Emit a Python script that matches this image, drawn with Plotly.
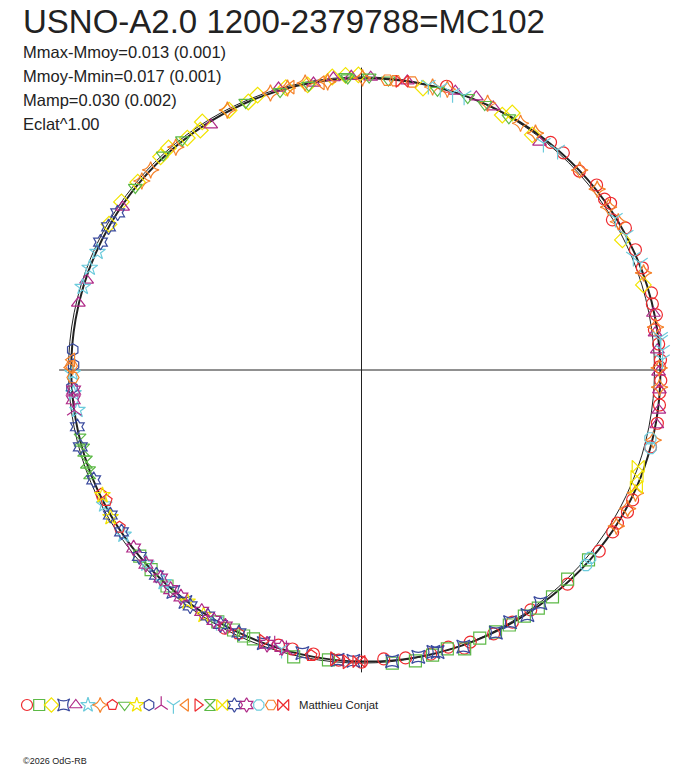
import plotly.graph_objects as go

# phase angle (deg, clockwise from top) and relative flux for each night / series
red_circle_deg = [16.7, 39.7, 42.9, 47.6, 51.8, 54.9, 56.2, 59.1, 61.7, 66.3, 70.0, 75.1, 77.2, 79.4, 82.2,
                  85.0, 88.1, 89.4, 92.0, 94.4, 96.7, 100.2, 104.9, 115.6, 118.1, 120.9, 122.8, 127.3,
                  136.1, 144.8, 149.1, 153.4, 158.2, 159.7, 162.6, 166.3, 171.3, 175.6, 180.0, 184.5,
                  189.6, 193.9, 196.8, 207.9]
red_circle_r = [1.011, 1.010, 1.012, 1.007, 1.021, 1.014, 1.023, 0.998, 1.023, 1.021, 1.020, 1.024, 1.018,
                1.024, 1.009, 1.018, 1.021, 1.017, 1.022, 1.020, 1.024, 1.026, 1.021, 1.026, 1.029, 1.018,
                1.020, 1.020, 1.014, 1.002, 1.003, 1.007, 1.000, 1.012, 0.991, 0.998, 0.994, 0.989, 0.997,
                0.993, 0.983, 0.981, 0.981, 0.997]

green_square_deg = [129.9, 135.4, 139.9, 143.4, 146.5, 149.9, 152.9, 156.2, 159.7, 162.9, 166.0, 169.5,
                    174.0, 186.5, 193.3, 201.9, 203.9, 206.2, 209.7, 222.0, 226.5, 230.0]
green_square_r = [1.010, 1.002, 1.012, 1.012, 1.007, 1.006, 1.004, 1.000, 1.015, 0.996, 1.003, 1.010,
                  1.006, 0.996, 1.006, 0.989, 0.993, 0.989, 0.990, 0.992, 0.990, 0.988]

yellow_diamond_deg = [300.0, 305.0, 310.0, 316.7, 319.0, 323.1, 326.1, 327.3, 333.0, 337.1, 339.3, 345.0,
                      349.3, 354.3, 356.9, 359.4, 12.3, 28.9, 30.4, 36.0, 63.5, 73.2]
yellow_diamond_r = [0.995, 1.000, 0.997, 1.000, 1.004, 0.990, 0.986, 1.006, 0.995, 0.993, 1.003, 0.998,
                    0.990, 1.005, 1.007, 1.007, 0.985, 0.994, 1.017, 0.992, 0.995, 1.005]

blue_starsq_deg = [142.5, 145.9, 149.5, 152.9, 159.8, 164.9, 165.7, 168.8, 174.0, 181.6, 184.7, 191.8,
                   199.7, 217.2, 220.3]
blue_starsq_r = [1.003, 1.010, 0.999, 1.007, 1.006, 0.997, 0.993, 0.998, 0.999, 0.993, 0.993, 0.987,
                 0.990, 0.994, 0.993]

magenta_tri_deg = [283.3, 288.1, 304.3, 328.4, 343.6, 350.5, 354.5, 358.0, 1.8, 9.0, 18.6, 22.8, 26.6,
                   38.0, 79.0, 82.8, 86.1, 90.4, 93.8, 97.7, 100.5]
magenta_tri_r = [0.993, 0.987, 0.987, 0.982, 1.003, 0.993, 1.002, 1.003, 1.000, 0.999, 1.004, 1.011,
                 1.004, 0.987, 1.015, 1.010, 1.012, 1.014, 1.019, 1.024, 1.025]

cyan_star_deg = [223.0, 228.0, 235.3, 242.4, 262.0, 265.4, 269.4, 286.6, 290.6, 294.1]
cyan_star_r = [0.990, 0.988, 0.988, 0.991, 0.979, 0.986, 0.986, 0.993, 0.991, 0.987]

orange_stardia_deg = [310.7, 313.5, 320.2, 332.7, 341.8, 345.3, 348.9, 353.3, 0.2, 14.1, 17.0, 25.3,
                      32.8, 36.3, 47.5, 52.5, 56.6, 60.0, 71.0, 81.7, 89.6, 93.3, 103.5, 114.2, 117.5,
                      121.5]
orange_stardia_r = [0.989, 0.992, 0.990, 0.998, 0.995, 0.995, 0.998, 0.990, 0.997, 0.996, 1.002, 1.007,
                    1.002, 1.003, 1.010, 1.014, 1.010, 1.012, 1.018, 1.014, 1.016, 1.019, 1.024, 1.025,
                    1.024, 1.020]

red_pentagon_deg = [190.0, 205.0, 237.0, 242.9, 244.5]
red_pentagon_r = [0.990, 0.993, 0.985, 0.978, 0.985]

green_tridown_deg = [308.9, 317.3, 322.1, 336.6, 343.7, 349.5, 356.9, 357.3, 1.5, 5.3, 15.2, 21.3, 24.9,
                     30.3]
green_tridown_r = [0.992, 0.998, 0.995, 0.995, 0.990, 0.988, 1.003, 0.998, 1.000, 0.994, 0.989, 0.998,
                   0.999, 0.997]

yellow_star_deg = [212.8, 216.9, 239.6, 244.2]
yellow_star_r = [0.995, 0.989, 0.993, 0.982]

blue_hexagon_deg = [266.5, 271.0, 274.0]
blue_hexagon_r = [0.990, 0.983, 0.988]

magenta_y_deg = [195.0, 197.5, 262.0]
magenta_y_r = [0.990, 0.985, 0.990]

cyan_y_deg = [13.2, 15.6, 18.2, 20.5, 38.7, 41.7, 59.1, 63.0, 67.4, 69.0, 83.7, 84.3, 86.2, 88.0, 196.0,
              210.0]
cyan_y_r = [0.999, 1.000, 0.995, 1.000, 0.993, 1.006, 1.010, 1.014, 1.005, 1.020, 1.027, 1.026, 1.030,
            1.028, 0.990, 0.990]

orange_trileft_deg = [270.5, 272.0, 346.0, 352.0]
orange_trileft_r = [0.995, 0.990, 0.995, 0.990]

red_triright_deg = [183.0, 185.5, 200.0]
red_triright_r = [0.997, 0.990, 0.985]

green_hourglass_deg = [249.3, 251.5, 253.9, 256.0]
green_hourglass_r = [0.992, 0.990, 0.987, 0.990]

yellow_bowtie_deg = [109.2, 111.1, 113.1]
yellow_bowtie_r = [1.000, 1.008, 1.020]

blue_hexagram_deg = [205.0, 209.0, 212.0, 216.0, 225.0, 230.0, 236.0, 240.0, 247.7, 254.7, 258.7, 296.1,
                     299.5, 302.8]
blue_hexagram_r = [0.990, 0.993, 0.990, 0.995, 0.990, 0.990, 0.988, 0.990, 0.988, 0.995, 0.989, 0.992,
                   0.992, 0.990]

magenta_hexagram_deg = [196.0, 199.0, 208.0, 210.5, 213.5, 218.5, 221.0, 224.0, 228.0, 232.0, 264.1, 266.0]
magenta_hexagram_r = [0.985, 0.990, 0.990, 0.992, 0.988, 0.990, 0.993, 0.987, 0.990, 0.987, 0.989, 0.985]

cyan_octagon_deg = [103.3, 105.1, 129.4, 131.0]
cyan_octagon_r = [1.013, 1.022, 1.010, 1.015]

orange_hexagon_deg = [5.1, 6.7, 10.0, 268.5, 270.8]
orange_hexagon_r = [0.993, 0.994, 0.998, 0.985, 0.990]

red_bowtie_deg = [8.0, 180.5]
red_bowtie_r = [0.995, 0.995]

# fitted light curve
fit_deg = [0, 20, 40, 60, 80, 100, 120, 140, 160, 180, 200, 220, 240, 260, 280, 300, 320, 340, 360]
fit_r = [0.996, 1.000, 1.006, 1.012, 1.018, 1.021, 1.019, 1.008, 1.001, 0.995, 0.990, 0.989, 0.989,
         0.990, 0.991, 0.991, 0.992, 0.994, 0.996]

series = [
    (red_circle_deg, red_circle_r, "circle-open", "#ee2a2e"),
    (green_square_deg, green_square_r, "square-open", "#5cb946"),
    (yellow_diamond_deg, yellow_diamond_r, "diamond-open", "#f2e400"),
    (blue_starsq_deg, blue_starsq_r, "star-square-open", "#3a4a9e"),
    (magenta_tri_deg, magenta_tri_r, "triangle-up-open", "#b02a88"),
    (cyan_star_deg, cyan_star_r, "star-open", "#6ccbdc"),
    (orange_stardia_deg, orange_stardia_r, "star-diamond-open", "#f5822a"),
    (red_pentagon_deg, red_pentagon_r, "pentagon-open", "#ee2a2e"),
    (green_tridown_deg, green_tridown_r, "triangle-down-open", "#5cb946"),
    (yellow_star_deg, yellow_star_r, "star-open", "#f2e400"),
    (blue_hexagon_deg, blue_hexagon_r, "hexagon-open", "#3a4a9e"),
    (magenta_y_deg, magenta_y_r, "y-up-open", "#b02a88"),
    (cyan_y_deg, cyan_y_r, "y-down-open", "#6ccbdc"),
    (orange_trileft_deg, orange_trileft_r, "triangle-left-open", "#f5822a"),
    (red_triright_deg, red_triright_r, "triangle-right-open", "#ee2a2e"),
    (green_hourglass_deg, green_hourglass_r, "hourglass-open", "#5cb946"),
    (yellow_bowtie_deg, yellow_bowtie_r, "bowtie-open", "#f2e400"),
    (blue_hexagram_deg, blue_hexagram_r, "hexagram-open", "#3a4a9e"),
    (magenta_hexagram_deg, magenta_hexagram_r, "hexagram-open", "#b02a88"),
    (cyan_octagon_deg, cyan_octagon_r, "octagon-open", "#6ccbdc"),
    (orange_hexagon_deg, orange_hexagon_r, "hexagon2-open", "#f5822a"),
    (red_bowtie_deg, red_bowtie_r, "bowtie-open", "#ee2a2e"),
]

title = "USNO-A2.0 1200-2379788=MC102"
stats = ["Mmax-Mmoy=0.013 (0.001)", "Mmoy-Mmin=0.017 (0.001)", "Mamp=0.030 (0.002)", "Eclat^1.00"]
author = "Matthieu Conjat"
credit = "©2026 OdG-RB"

W, H = 688, 768
FONT = "Arial, Liberation Sans, sans-serif"


def px(x):
    return x / W


def py(y):
    return 1 - y / H


fig = go.Figure()

fig.add_trace(go.Scatterpolar(theta=fit_deg, r=fit_r, mode="lines", line=dict(color="#222222", width=2,
                              shape="spline"), hoverinfo="skip", showlegend=False))

for deg, r, sym, col in series:
    fig.add_trace(go.Scatterpolar(theta=deg, r=r, mode="markers", showlegend=False,
                                  marker=dict(symbol=sym, size=12, color=col, line=dict(color=col, width=1.2))))

# symbol key along the bottom
for i, (_, _, sym, col) in enumerate(series):
    fig.add_trace(go.Scatter(x=[i], y=[0], mode="markers", xaxis="x", yaxis="y", showlegend=False,
                             marker=dict(symbol=sym, size=11, color=col, line=dict(color=col, width=1.2))))

# polar layout: radial grid at r=1 is the reference circle, angular grid gives the cross
cx, cy, R = 361.5, 370, 293
rmax = 1.032
rad = R * rmax
key_x0, key_dx = 27, 12.2
fig.update_layout(
    width=W, height=H, margin=dict(l=0, r=0, t=0, b=0),
    paper_bgcolor="white", plot_bgcolor="white",
    polar=dict(
        domain=dict(x=[(cx - rad) / W, (cx + rad) / W], y=[(H - cy - rad) / H, (H - cy + rad) / H]),
        bgcolor="white",
        radialaxis=dict(range=[0, rmax], tickvals=[1], showticklabels=False, ticks="", showline=False,
                        showgrid=True, gridcolor="#222222", gridwidth=1),
        angularaxis=dict(rotation=90, direction="clockwise", tickvals=[0, 90, 180, 270],
                         showticklabels=False, ticks="", showline=False, showgrid=True,
                         gridcolor="#222222", gridwidth=1),
    ),
    xaxis=dict(domain=[0, 1], range=[-key_x0 / key_dx, (W - key_x0) / key_dx], visible=False,
               fixedrange=True),
    yaxis=dict(domain=[1 - 725 / H, 1 - 685 / H], range=[-1, 1], visible=False, fixedrange=True),
    showlegend=False,
)

fig.add_annotation(text=title, x=px(21), y=py(21), xref="paper", yref="paper", xanchor="left",
                   yanchor="middle", showarrow=False, font=dict(family=FONT, size=33, color="#222222"))
for k, s in enumerate(stats):
    fig.add_annotation(text=s, x=px(21), y=py(52 + 24 * k), xref="paper", yref="paper",
                       xanchor="left", yanchor="middle", showarrow=False,
                       font=dict(family=FONT, size=16.5, color="#222222"))
fig.add_annotation(text=author, x=px(297), y=py(705), xref="paper", yref="paper", xanchor="left",
                   yanchor="middle", showarrow=False, font=dict(family=FONT, size=11.3, color="#222222"))
fig.add_annotation(text=credit, x=px(21), y=py(761), xref="paper", yref="paper", xanchor="left",
                   yanchor="middle", showarrow=False, font=dict(family=FONT, size=9, color="#222222"))

# drop the default page margin so the figure sits at the window corner
fig.write_html("out.html", config={"displayModeBar": False},
               post_script="document.body.style.margin='0px';")
